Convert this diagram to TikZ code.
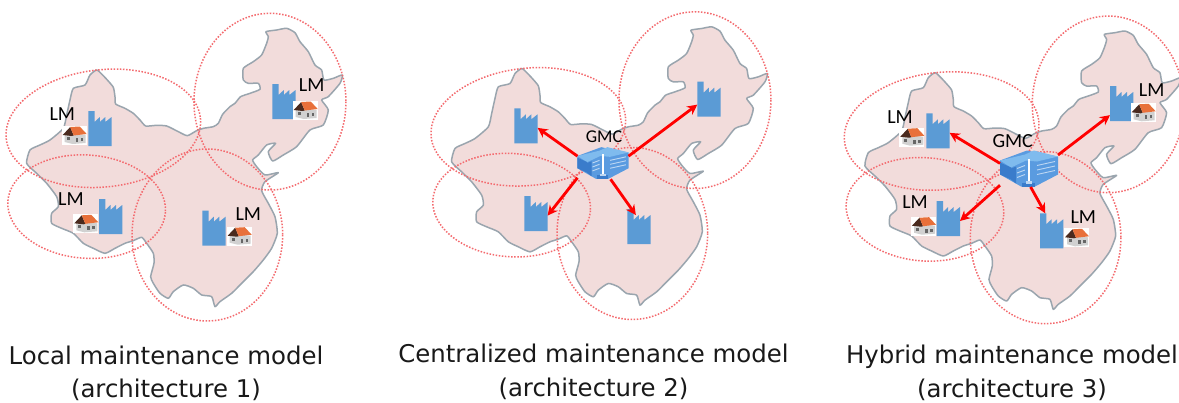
\documentclass[tikz,border=0pt]{standalone}
\usepackage{fontspec}
\setmainfont{DejaVu Sans}
\newfontfamily\lmfont{Carlito}
\usetikzlibrary{arrows.meta}
\definecolor{landfill}{HTML}{F2DCDB}
\definecolor{landedge}{HTML}{9AA5AE}
\definecolor{zone}{HTML}{F46A6E}
\definecolor{factoryblue}{HTML}{5B9BD5}
\definecolor{roof}{HTML}{E8703A}
\definecolor{roofdark}{HTML}{4A2A1E}
\definecolor{bldg}{HTML}{5A9BE0}
\definecolor{bldgtop}{HTML}{7FBBEE}
\definecolor{bldgdark}{HTML}{3A7CCB}
\tikzset{
  x=1pt,y=-1pt,
  land/.style={fill=landfill,draw=landedge,line width=1.5pt,line join=round},
  zonering/.style={draw=zone,line width=1.5pt,dash pattern=on 1.5pt off 1.6pt},
  factorybox/.style={minimum width=23.3pt,minimum height=35pt,inner sep=0pt,outer sep=0pt},
  gmcbox/.style={inner sep=0pt,outer sep=0pt},
  redarrow/.style={draw=red,line width=2.8pt,-{Stealth[length=10pt,width=10pt]}},
  lmlabel/.style={font=\lmfont\fontsize{20}{20}\selectfont,text=black,inner sep=0pt},
  caption/.style={font=\fontsize{24.4}{33.5}\selectfont,align=center,inner sep=0pt,text=black!90}
}
% China map: coordinates are the 3x crop, scaled by 1/3
\newcommand{\chinamap}[3]{%
 \begin{scope}[shift={(#1,#2)},x=0.3333pt,y=-0.3333pt]
  \path[land] plot[smooth cycle,tension=0.35] coordinates {(290,210) (305,222) (322,240) (340,262) (345,290) (347,312) (375,325) (400,340) (420,360) (437,378) (470,376) (500,378) (535,395) (562,407) (590,392) (610,385) (640,380) (655,370) (668,343) (690,320) (705,310) (722,290) (750,280) (780,268) (775,250) (745,250) (730,240) (730,205) (760,185) (785,165) (800,130) (805,110) (798,95) (830,90) (860,85) (885,98) (900,125) (925,155) (945,195) (965,210) (972,240) (1000,235) (1027,225) (1020,250) (985,290) (965,300) (985,330) (970,375) (930,390) (890,440) (850,465) (818,483) (805,455) (827,430) (800,435) (775,465) (758,480) (770,500) (795,525) (835,518) (795,545) (785,572) (805,610) (825,650) (832,700) (815,745) (790,780) (760,815) (725,850) (695,880) (660,905) (645,920) (635,890) (605,885) (580,865) (550,855) (520,875) (505,895) (480,880) (460,850) (452,830) (462,790) (460,760) (440,730) (425,712) (400,722) (375,730) (345,745) (315,760) (280,745) (250,730) (220,700) (185,685) (155,670) (155,640) (175,620) (170,590) (140,550) (110,520) (80,490) (90,450) (120,435) (150,420) (190,385) (200,345) (210,300) (220,265) (255,255) (270,225)};
  \path[zonering] (810,305) ellipse [x radius=228,y radius=265];
  \path[zonering] (622,705) ellipse [x radius=226,y radius=258];
  \path[zonering,rotate around={6:(310,385)}] (310,385) ellipse [x radius=293,y radius=176];
  \path[zonering,rotate around={-4:(260,620)}] (260,620) ellipse [x radius=237,y radius=155];
 \end{scope}}
% factory: #1 name, #2 #3 top-left corner
\newcommand{\factory}[3]{%
 \node[factorybox,anchor=north west] (#1) at (#2,#3) {};
 \begin{scope}[shift={(#2,#3)}]
  \fill[factoryblue] (0,0) -- (6.3,0) -- (6.3,11) -- (11.5,6) -- (11.5,11) -- (17,6) -- (17,11) -- (23.3,6) -- (23.3,35) -- (0,35) -- cycle;
 \end{scope}}
% house: #1 #2 top-left corner of the 25 x 19 white patch
\newcommand{\house}[2]{%
 \begin{scope}[shift={(#1,#2)}]
  \fill[white] (0,0) rectangle (25,19);
  \fill[black!18] (3,9) -- (10,9) -- (13,8) -- (24,9) -- (24,17) -- (11,18) -- (3,16) -- cycle;
  \fill[black!60] (5,11) rectangle (8,14);
  \fill[black!60] (14,12) rectangle (16.5,16);
  \fill[black!60] (19,12) rectangle (21.5,15);
  \fill[roofdark] (1,9) -- (8.5,1) -- (12,9.5) -- (10,10) -- cycle;
  \fill[roof] (8.5,1) -- (18,0.5) -- (25,8) -- (12,9.5) -- cycle;
 \end{scope}}
% gmc building: #1 name, #2 #3 centre, #4 scale factor
\newcommand{\gmc}[4]{%
 \node[gmcbox,minimum width=#4*58pt,minimum height=#4*37pt] (#1) at (#2,#3) {};
 \begin{scope}[shift={(#2,#3)},x=#4pt,y=-#4pt]
  \fill[bldg] (-29,-8) -- (-2,-18) -- (7,-16) -- (29,-12) -- (29,6) -- (6,18) -- (-8,18) -- (-29,6) -- cycle;
  \fill[bldgtop] (-29,-8) -- (-4,-14) -- (5,-18) -- (29,-12) -- (8,-7) -- (-3,-8) -- (-18,-1) -- cycle;
  \fill[bldgdark] (-29,-6) -- (-18,-1) -- (-18,11) -- (-29,6) -- cycle;
  \fill[bldgdark] (-18,0) -- (-13,-2) -- (-13,15) -- (-18,11) -- cycle;
  \fill[bldgdark] (-7,14) -- (6,14) -- (6,18) -- (-7,18) -- cycle;
  \foreach \yy in {0,4.5,9}{
   \draw[white!60!bldg,line width=0.9pt] (-12,\yy) -- (-4,\yy-3);
   \draw[white!60!bldg,line width=0.9pt] (8,\yy-3) -- (26,\yy-7);
  }
  \fill[white] (-1.4,-10) rectangle (0.8,12);
  \fill[white!60!bldg] (-3.5,12) rectangle (3,15);
 \end{scope}}
\begin{document}
\begin{tikzpicture}
\useasboundingbox (0,0) rectangle (1179,402);
\fill[white] (0,0) rectangle (1179,402);
% ---------- architecture 1
\chinamap{0}{0}{}
\factory{fa}{88.3}{111}
\factory{fb}{272.3}{84}
\factory{fc}{99}{199}
\factory{fd}{202.3}{210.7}
\house{61.7}{126}
\house{292.7}{101}
\house{73.3}{214.3}
\house{226.7}{226.7}
\node[lmlabel] (la1) at (62.3,114) {LM};
\node[lmlabel] (lb1) at (311.7,85) {LM};
\node[lmlabel] (lc1) at (71,199.3) {LM};
\node[lmlabel] (ld1) at (248.3,214) {LM};
% ---------- architecture 2
\chinamap{425}{-1.5}{}
\factory{ga}{514.3}{108.3}
\factory{gb}{697.3}{81.7}
\factory{gc}{524.3}{196}
\factory{gd}{627.3}{209}
\gmc{gmca}{603}{163}{0.88}
\node[lmlabel,font=\lmfont\fontsize{18}{18}\selectfont] (gl) at (604,136.7) {GMC};
\draw[redarrow] (gmca.165) -- (ga.-10);
\draw[redarrow] (gmca.15) -- (gb.-155);
\draw[redarrow] (gmca.-150) -- (gc.-10);
\draw[redarrow] (gmca.-65) -- ([yshift=-6pt]gd.100);
% ---------- architecture 3
\chinamap{838.3}{2.7}{}
\factory{ha}{926.3}{113.3}
\factory{hb}{1110}{86}
\factory{hc}{936.7}{201}
\factory{hd}{1040}{213.3}
\house{899.3}{127.7}
\house{1130.7}{103.3}
\house{911}{216.7}
\house{1064}{228.3}
\gmc{gmcb}{1029}{168.5}{1}
\node[lmlabel] (hl) at (1012.7,141) {GMC};
\node[lmlabel] (la3) at (900,116.7) {LM};
\node[lmlabel] (lb3) at (1151.7,90) {LM};
\node[lmlabel] (lc3) at (915,201.7) {LM};
\node[lmlabel] (ld3) at (1083.3,217.3) {LM};
\draw[redarrow] (gmcb.170) -- (ha.-10);
\draw[redarrow] (gmcb.25) -- (hb.-135);
\draw[redarrow] (gmcb.-150) -- (hc.-12);
\draw[redarrow] (gmcb.-85) -- (hd.110);
% ---------- captions
\node[caption] (c1) at (166,373.5) {Local maintenance model\\(architecture 1)};
\node[caption] (c2) at (593.5,372) {Centralized maintenance model\\(architecture 2)};
\node[caption] (c3) at (1012,373) {Hybrid maintenance model\\(architecture 3)};
\end{tikzpicture}
\end{document}
